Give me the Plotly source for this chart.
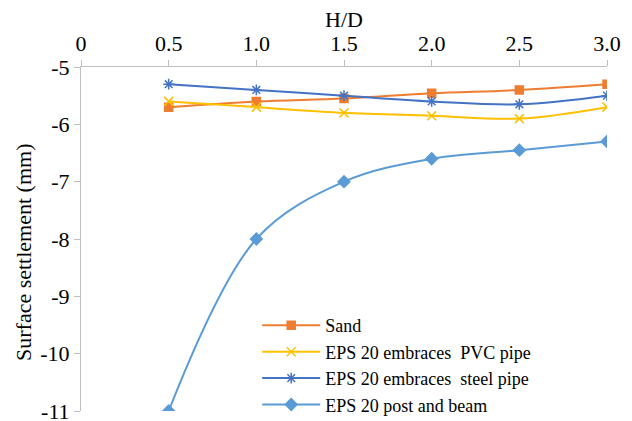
import plotly.graph_objects as go

hd = [0.5, 1.0, 1.5, 2.0, 2.5, 3.0]
sand = [-5.7, -5.6, -5.55, -5.46, -5.4, -5.3]
pvc = [-5.6, -5.7, -5.8, -5.85, -5.9, -5.7]
steel = [-5.3, -5.4, -5.5, -5.6, -5.65, -5.5]
post_beam = [-11.0, -8.0, -7.0, -6.6, -6.45, -6.3]

x_tickvals = [0, 0.5, 1.0, 1.5, 2.0, 2.5, 3.0]
x_ticktext = ["0", "0.5", "1.0", "1.5", "2.0", "2.5", "3.0"]
y_tickvals = [-5, -6, -7, -8, -9, -10, -11]
y_ticktext = ["-5", "-6", "-7", "-8", "-9", "-10", "-11"]

series = [
    ("Sand", sand, "#ED7D31", "square", 8),
    ("EPS 20 embraces  PVC pipe", pvc, "#FFC000", "x-thin-open", 9),
    ("EPS 20 embraces  steel pipe", steel, "#4472C4", "asterisk-open", 9),
    ("EPS 20 post and beam", post_beam, "#5B9BD5", "diamond", 9),
]

fig = go.Figure()
for name, vals, color, sym, size in series:
    fig.add_trace(go.Scatter(
        x=hd, y=vals, name=name, mode="lines+markers",
        line=dict(color=color, width=2, shape="spline", smoothing=1.0),
        marker=dict(symbol=sym, size=size, color=color,
                    line=dict(color=color, width=1.5)),
    ))

font = "Liberation Serif"
fig.update_layout(
    width=632, height=421,
    margin=dict(l=81, r=25, t=67, b=10, autoexpand=False),
    paper_bgcolor="white", plot_bgcolor="white",
    font=dict(family=font, size=22, color="#000000"),
    showlegend=True,
    legend=dict(x=0.335, y=0.302, xanchor="left", yanchor="top",
                bgcolor="rgba(0,0,0,0)", font=dict(size=18, family=font),
                itemwidth=58, tracegroupgap=0),
    xaxis=dict(
        side="top", range=[0, 3], tickvals=x_tickvals, ticktext=x_ticktext,
        automargin=False, ticklabeloverflow="allow",
        showgrid=False, zeroline=False, showline=True, linecolor="#BFBFBF",
        linewidth=1, ticks="outside", ticklen=6, tickcolor="#BFBFBF",
        tickfont=dict(family=font, size=22),
    ),
    yaxis=dict(
        range=[-11, -5], tickvals=y_tickvals, ticktext=y_ticktext,
        automargin=False, ticklabeloverflow="allow",
        showgrid=False, zeroline=False, showline=True, linecolor="#BFBFBF",
        linewidth=1, ticks="outside", ticklen=6, tickcolor="#BFBFBF",
        tickfont=dict(family=font, size=22),
    ),
    annotations=[
        dict(text="H/D", xref="paper", yref="paper", x=0.5, y=(411 - 20) / 344,
             xanchor="center", yanchor="middle", showarrow=False,
             font=dict(family=font, size=22)),
        dict(text="Surface settlement (mm)", xref="paper", yref="paper",
             x=(23 - 81) / 526, y=(411 - 253) / 344, textangle=-90,
             xanchor="center", yanchor="middle", showarrow=False,
             font=dict(family=font, size=22)),
    ],
)

fig.write_html("out.html", config={"displayModeBar": False},
               post_script="document.body.style.margin='0';document.body.style.overflow='hidden';")
